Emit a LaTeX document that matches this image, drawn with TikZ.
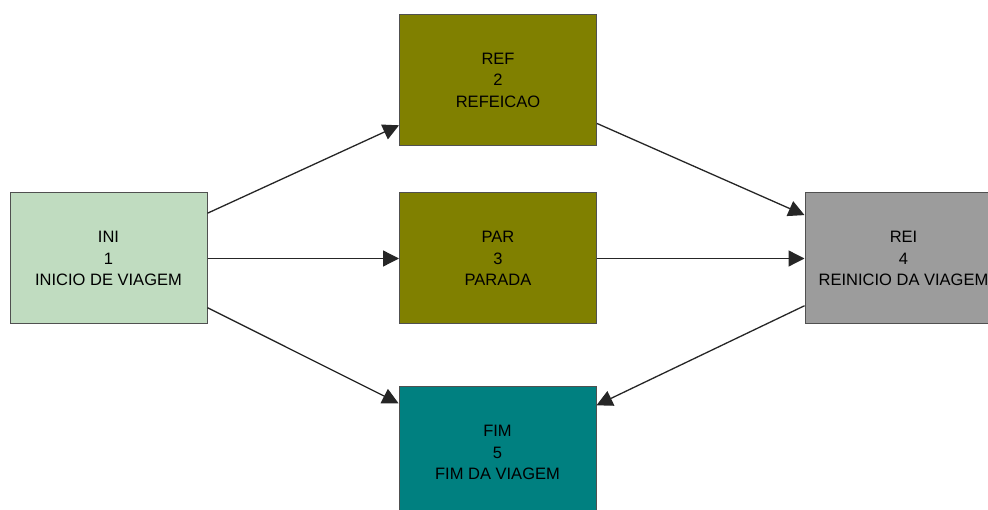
\documentclass[tikz,border=0pt]{standalone}
\usepackage{fontspec}
\setmainfont{Liberation Sans}
\usetikzlibrary{arrows.meta}
\definecolor{inigreen}{HTML}{C0DCC0}
\definecolor{olivebox}{HTML}{808000}
\definecolor{graybox}{HTML}{9C9C9C}
\definecolor{tealbox}{HTML}{008080}
\definecolor{borderc}{HTML}{505050}
\tikzset{
  statebox/.style={draw=borderc, line width=1pt, minimum width=197pt, minimum height=131pt,
    inner sep=0pt, align=center, font=\fontsize{16.5}{21.5}\selectfont, text=black},
  flow/.style={line width=1.3pt, draw=black!85, -{Triangle[length=16pt,width=16pt]}}
}
\begin{document}
\begin{tikzpicture}[x=1pt,y=-1pt]
\clip (0,0) rectangle (988,510);
\fill[white] (0,0) rectangle (988,510);
\node[statebox, fill=inigreen] (ini) at (108.5,258.5) {INI\\1\\INICIO DE VIAGEM};
\node[statebox, fill=olivebox] (ref) at (498,80) {REF\\2\\REFEICAO};
\node[statebox, fill=olivebox] (par) at (498,258.5) {PAR\\3\\PARADA};
\node[statebox, fill=graybox] (rei) at (903.5,258.5) {REI\\4\\REINICIO DA VIAGEM};
\node[statebox, fill=tealbox] (fim) at (497.5,452.5) {FIM\\5\\FIM DA VIAGEM};
\draw[flow] (ini) -- (ref);
\draw[flow] (ini) -- (par);
\draw[flow] (ini) -- (fim);
\draw[flow] (ref) -- (rei);
\draw[flow] (par) -- (rei);
\draw[flow] (rei) -- (fim);
\end{tikzpicture}
\end{document}
